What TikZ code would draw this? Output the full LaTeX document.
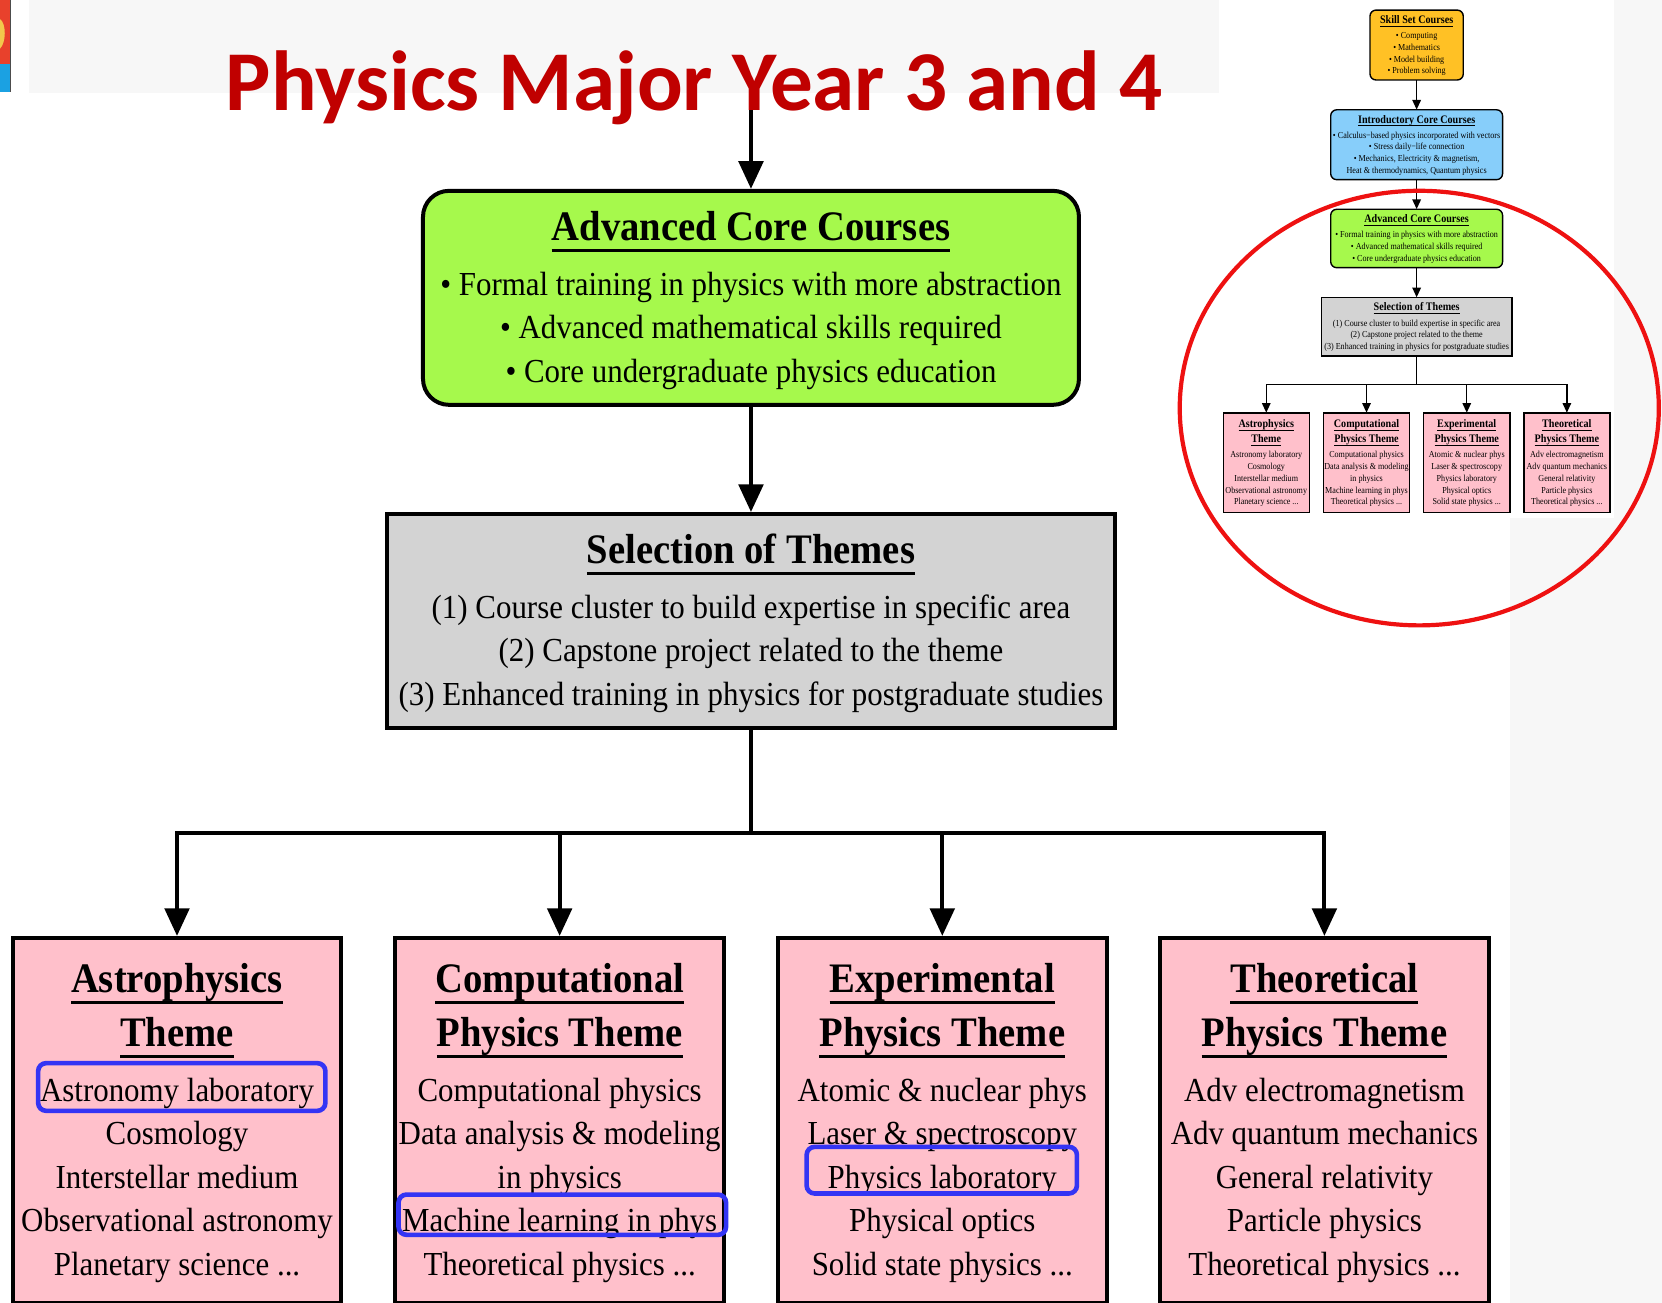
\documentclass[tikz,border=0pt]{standalone}
\usepackage{fontspec}
\setmainfont{Liberation Serif}[FakeStretch=0.92]
\newfontfamily\titlefont{Carlito}
\usetikzlibrary{arrows.meta}

\definecolor{titlered}{HTML}{C00000}
\definecolor{slidegray}{HTML}{F7F7F7}
\definecolor{advgreen}{HTML}{A6F94C}
\definecolor{selgray}{HTML}{D3D3D3}
\definecolor{themepink}{HTML}{FFC0CB}
\definecolor{skillorange}{HTML}{FFC125}
\definecolor{introblue}{HTML}{87CEFA}
\definecolor{markblue}{HTML}{3434F4}
\definecolor{ringred}{HTML}{EE1111}
\definecolor{logored}{HTML}{E8412C}
\definecolor{logoblue}{HTML}{1BA1E2}
\definecolor{logoyellow}{HTML}{F2C94C}

% underlined box titles
\newlength\ttlw
\newcommand\ttl[1]{{\fontsize{21}{21.7}\bfseries\selectfont\settowidth\ttlw{#1}\rule{0pt}{17pt}#1\llap{\rule[-5.8pt]{\ttlw}{1.5pt}}}}
\newcommand\boxlw{2pt}
\newcommand\boxrc{13pt}

\tikzset{
 box/.style={draw, line width=\boxlw, align=center, inner sep=0pt, font=\fontsize{16.8}{21.7}\selectfont},
 corebox/.style={box, rounded corners=\boxrc, fill=advgreen, minimum width=328pt, minimum height=107pt},
 selbox/.style={box, fill=selgray, minimum width=363.7pt, minimum height=107pt},
 themebox/.style={box, fill=themepink, minimum width=164.3pt, minimum height=182.3pt, anchor=north},
 flow/.style={line width=\boxlw, -{Triangle[length=0pt 6.9, width=0pt 6.1]}},
 hilite/.style={draw=markblue, line width=2.3pt, rounded corners=4pt},
 ring/.style={draw=ringred, line width=2.1pt},
 titletext/.style={font=\titlefont\bfseries\fontsize{42.6}{45}\selectfont, text=titlered, anchor=base, inner sep=0pt}
}

% core courses, themes and their connectors (prefix #1)
\newcommand\themeflow[1]{%
 \node[corebox] (#1adv) at (708.5,281) {\ttl{Advanced Core Courses}\\[5.9pt]
  • Formal training in physics with more abstraction\\
  • Advanced mathematical skills required\\
  • Core undergraduate physics education};
 \node[selbox] (#1sel) at (708.5,585.9) {\ttl{Selection of Themes}\\[5.9pt]
  (1) Course cluster to build expertise in specific area\\
  (2) Capstone project related to the theme\\
  (3) Enhanced training in physics for postgraduate studies};
 \coordinate (#1fork) at (708.5,786);
 \node[themebox] (#1astro) at (167,883) {\ttl{Astrophysics}\\[3.2pt]\ttl{Theme}\\[5.9pt]
  Astronomy laboratory\\ Cosmology\\ Interstellar medium\\ Observational astronomy\\ Planetary science ...};
 \node[themebox] (#1comp) at (528,883) {\ttl{Computational}\\[3.2pt]\ttl{Physics Theme}\\[5.9pt]
  Computational physics\\ Data analysis \& modeling\\ in physics\\ Machine learning in phys\\ Theoretical physics ...};
 \node[themebox] (#1expt) at (889,883) {\ttl{Experimental}\\[3.2pt]\ttl{Physics Theme}\\[5.9pt]
  Atomic \& nuclear phys\\ Laser \& spectroscopy\\ Physics laboratory\\ Physical optics\\ Solid state physics ...};
 \node[themebox] (#1theo) at (1249.5,883) {\ttl{Theoretical}\\[3.2pt]\ttl{Physics Theme}\\[5.9pt]
  Adv electromagnetism\\ Adv quantum mechanics\\ General relativity\\ Particle physics\\ Theoretical physics ...};
 % connectors
 \draw[flow] (#1adv) -- (#1sel);
 \draw[line width=\boxlw] (#1sel) -- (#1fork);
 \foreach \t in {astro,comp,expt,theo} {
  \draw[flow] (#1fork) -| (#1\t);
 }
}

\begin{document}
\begin{tikzpicture}[x=0.53pt, y=-0.53pt]
 \useasboundingbox (0,0) rectangle (1568,1229);
 \clip (0,0) rectangle (1568,1229);
 % slide background
 \fill[white] (0,0) rectangle (1568,1229);
 \fill[slidegray] (27,0) rectangle (1150,88);
 \fill[slidegray] (1523,0) rectangle (1568,489);
 \fill[slidegray] (1425,489) rectangle (1568,1229);
 % logo
 \fill[logored] (0,0) rectangle (10,60);
 \fill[logoblue] (0,60) rectangle (10,87);
 \fill[logoyellow] (0,18) .. controls (6,22) and (6,40) .. (0,46) -- cycle;
 \draw[black!70, line width=0.6pt] (10,0) -- (10,87);

 % main flow
 \themeflow{m}
 \coordinate (mtop) at (708.5,88);
 \draw[flow] (mtop) -- (madv);
 \node[titletext] (title) at (655,104) {Physics Major Year 3 and 4};

 % highlighted courses
 \draw[hilite] (36,1003) rectangle (307,1048);
 \draw[hilite] (376,1127) rectangle (685,1165);
 \draw[hilite] (761,1082) rectangle (1016,1126);

 % overview thumbnail
 \begin{scope}[shift={(1336.5,225)}, xscale=0.262, yscale=0.273, shift={(-708.5,-281)}, transform shape]
  \renewcommand\boxlw{0.7pt}\renewcommand\boxrc{3pt}
  \themeflow{s}
  \node[corebox, fill=skillorange, minimum width=178pt, minimum height=128pt] (sskill) at (708.5,-387.5) {\ttl{Skill Set Courses}\\[5.9pt]
   • Computing\\ • Mathematics\\ • Model building\\ • Problem solving};
  \node[corebox, fill=introblue, minimum height=128pt] (sintro) at (708.5,-43) {\ttl{Introductory Core Courses}\\[5.9pt]
   • Calculus−based physics incorporated with vectors\\
   • Stress daily−life connection\\
   • Mechanics, Electricity \& magnetism,\\
   Heat \& thermodynamics, Quantum physics};
  \draw[flow] (sskill) -- (sintro);
  \draw[flow] (sintro) -- (sadv);
 \end{scope}
 % red ring
 \draw[ring] (1339,385) ellipse [x radius=226, y radius=205];
\end{tikzpicture}
\end{document}
